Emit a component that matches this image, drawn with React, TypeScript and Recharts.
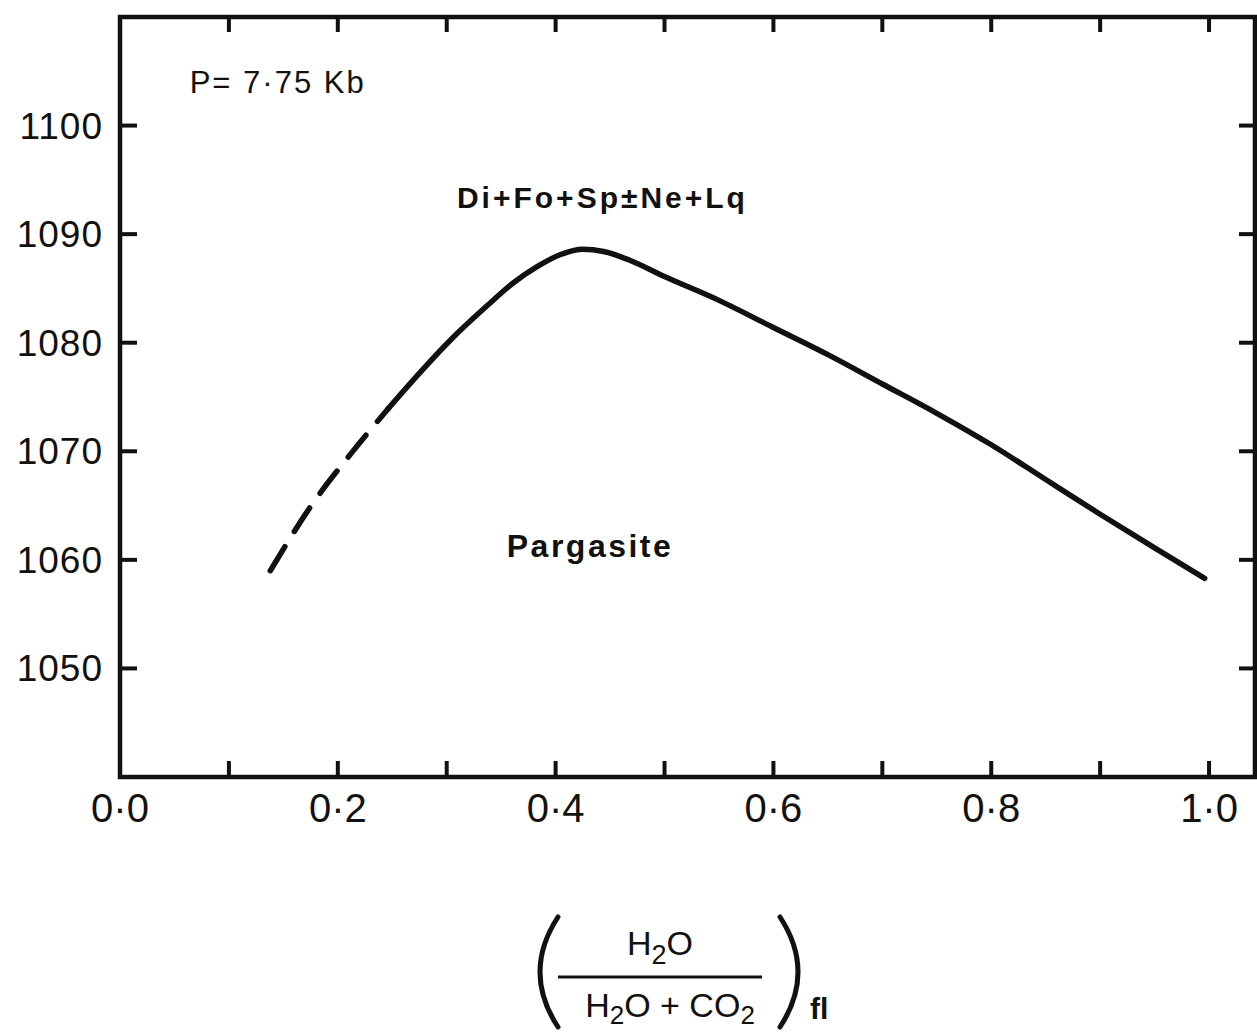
import React from 'react';
import { LineChart, Line, XAxis, YAxis, ReferenceArea, ReferenceDot, Label } from 'recharts';

const FONT = '"Liberation Sans", Arial, Helvetica, sans-serif';
const INK = '#111111';

// ---- data ----
const dashedX = [0.138, 0.177, 0.213, 0.246];
const dashedY = [1059.0, 1065.2, 1069.9, 1073.9];

const solidX = [0.246, 0.275, 0.306, 0.337, 0.361, 0.383, 0.404, 0.425, 0.444, 0.468, 0.5, 0.55, 0.6, 0.65, 0.7, 0.75, 0.8, 0.85, 0.9, 0.95, 0.996];
const solidY = [1073.9, 1077.2, 1080.5, 1083.4, 1085.5, 1087.0, 1088.1, 1088.6, 1088.4, 1087.6, 1086.1, 1083.9, 1081.4, 1078.9, 1076.2, 1073.5, 1070.6, 1067.4, 1064.2, 1061.1, 1058.3];

const xTicks = [0, 0.1, 0.2, 0.3, 0.4, 0.5, 0.6, 0.7, 0.8, 0.9, 1.0];
const xLabelValues = [0, 0.2, 0.4, 0.6, 0.8, 1.0];
const xLabelTexts = ['0·0', '0·2', '0·4', '0·6', '0·8', '1·0'];

const yTicks = [1050, 1060, 1070, 1080, 1090, 1100];
const yLabelTexts = ['1050', '1060', '1070', '1080', '1090', '1100'];

const xDomain = [0, 1.0422];
const yDomain = [1040, 1110];

const noteTexts = ['P= 7·75 Kb', 'Di+Fo+Sp±Ne+Lq', 'Pargasite'];
const noteX = [0.064, 0.443, 0.4316];
const noteY = [1103.0, 1092.45, 1060.22];

const dashedData = dashedX.map((x, i) => ({ x, y: dashedY[i] }));
const solidData = solidX.map((x, i) => ({ x, y: solidY[i] }));

// ---- ticks ----
const BottomTick = (props: any) => {
  const { x, y, payload } = props;
  const idx = xLabelValues.findIndex((v) => Math.abs(v - payload.value) < 1e-9);
  return (
    <g>
      <line x1={x} y1={y} x2={x} y2={y - 16} stroke={INK} strokeWidth={4} />
      {idx >= 0 && (
        <text x={x} y={y + 45} textAnchor="middle" fontFamily={FONT} fontSize={40} fill={INK}>
          {xLabelTexts[idx]}
        </text>
      )}
    </g>
  );
};

const TopTick = (props: any) => {
  const { x, y } = props;
  return <line x1={x} y1={y} x2={x} y2={y + 15} stroke={INK} strokeWidth={4} />;
};

const LeftTick = (props: any) => {
  const { x, y, payload } = props;
  const idx = yTicks.indexOf(payload.value);
  return (
    <g>
      <line x1={x} y1={y} x2={x + 17} y2={y} stroke={INK} strokeWidth={4} />
      {idx >= 0 && (
        <text x={x - 17} y={y + 13} textAnchor="end" fontFamily={FONT} fontSize={37} fill={INK} letterSpacing={1}>
          {yLabelTexts[idx]}
        </text>
      )}
    </g>
  );
};

const RightTick = (props: any) => {
  const { x, y } = props;
  return <line x1={x} y1={y} x2={x - 16} y2={y} stroke={INK} strokeWidth={4} />;
};

// ---- x axis title (fraction) ----
const AxisTitle = (props: any) => {
  const vb = props.viewBox || { x: 120, y: 777 };
  const cx = vb.x + 540;
  const by = vb.y;
  return (
    <g fontFamily={FONT} fill={INK}>
      <path d={`M ${cx - 102} ${by + 140} Q ${cx - 138} ${by + 195} ${cx - 102} ${by + 250}`} stroke={INK} strokeWidth={5} fill="none" strokeLinecap="round" />
      <path d={`M ${cx + 120} ${by + 140} Q ${cx + 156} ${by + 195} ${cx + 120} ${by + 250}`} stroke={INK} strokeWidth={5} fill="none" strokeLinecap="round" />
      <line x1={cx - 102} y1={by + 200} x2={cx + 102} y2={by + 200} stroke={INK} strokeWidth={3} />
      <text x={cx} y={by + 178} textAnchor="middle" fontSize={34}>
        <tspan>H</tspan>
        <tspan dy={9} fontSize={27}>2</tspan>
        <tspan dy={-9}>O</tspan>
      </text>
      <text x={cx + 10} y={by + 240} textAnchor="middle" fontSize={34}>
        <tspan>H</tspan>
        <tspan dy={7} fontSize={26}>2</tspan>
        <tspan dy={-7}>O + CO</tspan>
        <tspan dy={7} fontSize={26}>2</tspan>
      </text>
      <text x={cx + 150} y={by + 242} fontSize={30} fontWeight="bold">fl</text>
    </g>
  );
};

const noteStyles = [
  { anchor: 'start', size: 31, weight: 'normal', spacing: 2 },
  { anchor: 'middle', size: 30, weight: 'bold', spacing: 3 },
  { anchor: 'middle', size: 32, weight: 'bold', spacing: 2.5 },
];

const makeNote = (i: number) => (p: any) => (
  <text
    x={p.cx}
    y={p.cy}
    textAnchor={noteStyles[i].anchor as any}
    fontFamily={FONT}
    fontSize={noteStyles[i].size}
    fontWeight={noteStyles[i].weight}
    letterSpacing={noteStyles[i].spacing}
    fill={INK}
  >
    {noteTexts[i]}
  </text>
);

export default function App() {
  return (
    <div style={{ position: 'absolute', left: 0, top: 0, width: 1257, height: 1034, background: '#ffffff' }}>
      <LineChart width={1257} height={1034} margin={{ top: 0, right: 0, bottom: 0, left: 0 }}>
        <XAxis
          xAxisId="b"
          orientation="bottom"
          type="number"
          dataKey="x"
          domain={xDomain}
          ticks={xTicks}
          interval={0}
          allowDataOverflow
          height={257}
          tickSize={0}
          tickMargin={0}
          axisLine={false}
          tickLine={false}
          tick={<BottomTick />}
        >
          <Label content={AxisTitle} />
        </XAxis>
        <XAxis
          xAxisId="t"
          orientation="top"
          type="number"
          dataKey="x"
          domain={xDomain}
          ticks={xTicks}
          interval={0}
          allowDataOverflow
          height={17}
          tickSize={0}
          tickMargin={0}
          axisLine={false}
          tickLine={false}
          tick={<TopTick />}
        />
        <YAxis
          yAxisId="l"
          orientation="left"
          type="number"
          domain={yDomain}
          ticks={yTicks}
          interval={0}
          allowDataOverflow
          width={120}
          tickSize={0}
          tickMargin={0}
          axisLine={false}
          tickLine={false}
          tick={<LeftTick />}
        />
        <YAxis
          yAxisId="r"
          orientation="right"
          type="number"
          domain={yDomain}
          ticks={yTicks}
          interval={0}
          allowDataOverflow
          width={2}
          tickSize={0}
          tickMargin={0}
          axisLine={false}
          tickLine={false}
          tick={<RightTick />}
        />
        <ReferenceArea
          xAxisId="b"
          yAxisId="l"
          x1={xDomain[0]}
          x2={xDomain[1]}
          y1={yDomain[0]}
          y2={yDomain[1]}
          fill="none"
          fillOpacity={0}
          stroke={INK}
          strokeWidth={4.5}
          ifOverflow="visible"
        />
        <Line
          xAxisId="b"
          yAxisId="l"
          data={dashedData}
          dataKey="y"
          type="monotone"
          stroke={INK}
          strokeWidth={5.5}
          strokeDasharray="28 18"
          strokeLinecap="round"
          dot={false}
          isAnimationActive={false}
        />
        <Line
          xAxisId="b"
          yAxisId="l"
          data={solidData}
          dataKey="y"
          type="monotone"
          stroke={INK}
          strokeWidth={5.5}
          strokeLinecap="round"
          strokeLinejoin="round"
          dot={false}
          isAnimationActive={false}
        />
        {noteTexts.map((t, i) => (
          <ReferenceDot
            key={t}
            xAxisId="b"
            yAxisId="l"
            x={noteX[i]}
            y={noteY[i]}
            r={0}
            ifOverflow="visible"
            shape={makeNote(i)}
          />
        ))}
      </LineChart>
    </div>
  );
}
